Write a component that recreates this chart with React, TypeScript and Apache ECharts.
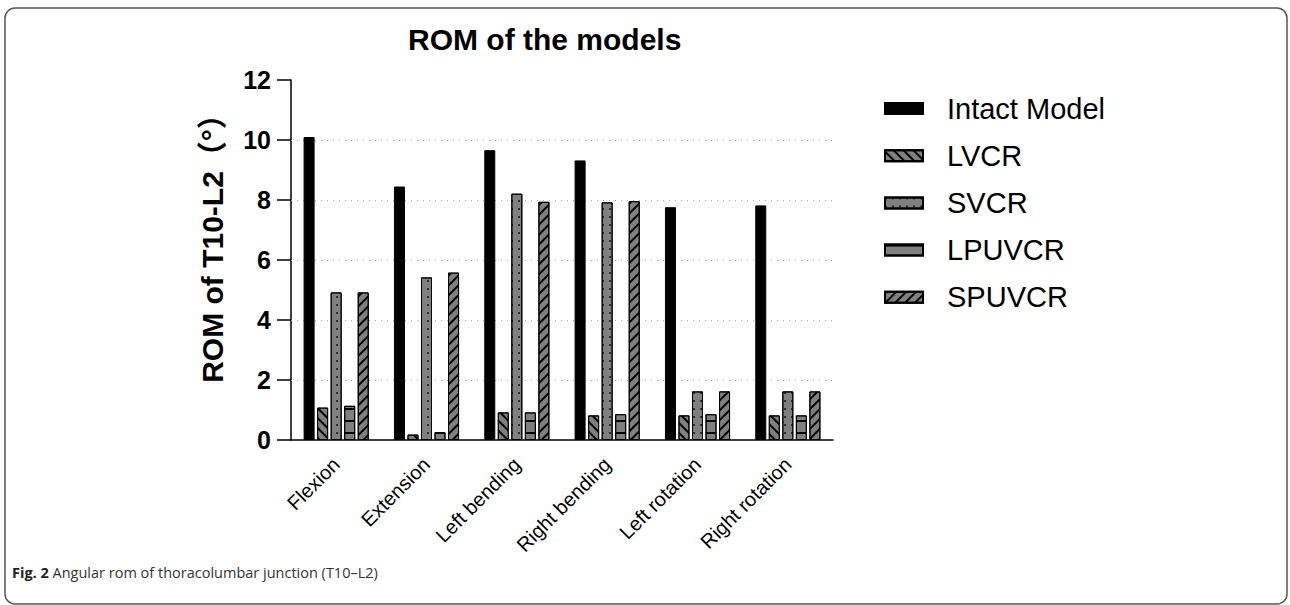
import React, { useEffect, useRef } from "react";
import * as echarts from "echarts";

const categories = ["Flexion", "Extension", "Left bending", "Right bending", "Left rotation", "Right rotation"];
const seriesNames = ["Intact Model", "LVCR", "SVCR", "LPUVCR", "SPUVCR"];
const intact = [10.1, 8.45, 9.66, 9.32, 7.76, 7.82];
const lvcr = [1.08, 0.18, 0.92, 0.82, 0.82, 0.82];
const svcr = [4.92, 5.42, 8.21, 7.92, 1.62, 1.62];
const lpuvcr = [1.14, 0.26, 0.92, 0.86, 0.86, 0.82];
const spuvcr = [4.92, 5.58, 7.94, 7.96, 1.62, 1.62];
const gridValues = [2, 4, 6, 8, 10];

const GRAY = "#808080";
const FONT = "Liberation Sans, Arial, sans-serif";

export default function App() {
  const ref = useRef<HTMLDivElement>(null);
  useEffect(() => {
    document.body.style.margin = "0";
    const chart = echarts.init(ref.current!, null, { renderer: "svg" });
    const decals: any[] = [
      null,
      { symbol: "rect", color: "#000", dashArrayX: [1, 0], dashArrayY: [1.4, 4.2], rotation: Math.PI / 4 },
      { symbol: "circle", color: "#000", symbolSize: 0.8, dashArrayX: [[2, 5]], dashArrayY: [2, 6], rotation: 0 },
      { symbol: "rect", color: "#000", dashArrayX: [1, 0], dashArrayY: [1.4, 9.4], rotation: 0 },
      { symbol: "rect", color: "#000", dashArrayX: [1, 0], dashArrayY: [1.4, 4.2], rotation: -Math.PI / 4 },
    ];
    const values = [intact, lvcr, svcr, lpuvcr, spuvcr];
    const series: any[] = values.map((v, i) => ({
      name: seriesNames[i],
      type: "bar",
      data: v,
      barWidth: 11,
      barGap: "23%",
      z: 3,
      itemStyle: {
        color: i === 0 ? "#000" : GRAY,
        borderColor: "#000",
        borderWidth: 1,
        decal: decals[i] || undefined,
      },
      markLine:
        i === 0
          ? {
              silent: true,
              symbol: ["none", "none"],
              z: 1,
              label: { show: false },
              lineStyle: { color: "#aaa", type: [1, 5], width: 1 },
              data: gridValues.map((g) => ({ yAxis: g })),
            }
          : undefined,
    }));
    chart.setOption({
      animation: false,
      title: {
        text: "ROM of the models",
        left: 408,
        top: 24,
        padding: 0,
        textStyle: { fontFamily: FONT, fontWeight: "bold", fontSize: 30, color: "#000" },
      },
      legend: {
        orient: "vertical",
        left: 884,
        top: 94,
        padding: 0,
        icon: "rect",
        itemWidth: 38,
        itemHeight: 11,
        itemGap: 18.2,
        data: seriesNames,
        textStyle: { fontFamily: FONT, fontSize: 29, color: "#000", padding: [0, 0, 0, 19] },
      },
      grid: { left: 291, top: 80, width: 542, height: 360, containLabel: false },
      xAxis: {
        type: "category",
        data: categories,
        axisLine: { lineStyle: { color: "#000", width: 1.5 } },
        axisTick: { alignWithLabel: true, length: 17, lineStyle: { color: "#000", width: 1.5 } },
        axisLabel: { rotate: 45, fontSize: 20, color: "#000", margin: 21, fontFamily: FONT },
      },
      yAxis: {
        type: "value",
        min: 0,
        max: 12,
        interval: 2,
        name: "ROM of T10-L2（°）",
        nameLocation: "middle",
        nameGap: 64,
        nameTextStyle: { fontFamily: "Liberation Sans, Arial, Noto Sans CJK SC, sans-serif", fontWeight: "bold", fontSize: 30, color: "#000", padding: [0, 0, 0, 38] },
        axisLine: { show: true, lineStyle: { color: "#000", width: 1.5 } },
        axisTick: { show: true, length: 14, lineStyle: { color: "#000", width: 1.5 } },
        axisLabel: { fontSize: 25, fontWeight: "bold", color: "#000", margin: 20, fontFamily: FONT },
        splitLine: { show: false },
      },
      graphic: [
        {
          type: "rect",
          shape: { x: 5, y: 8, width: 1282, height: 596, r: 10 },
          style: { fill: "none", stroke: "#555", lineWidth: 1.5 },
          silent: true,
        },
        {
          type: "text",
          x: 12,
          y: 565,
          style: {
            text: "{b|Fig. 2} Angular rom of thoracolumbar junction (T10–L2)",
            fontFamily: "Open Sans, sans-serif",
            fontSize: 14.5,
            fill: "#333",
            rich: { b: { fontWeight: "bold", fontFamily: "Open Sans, sans-serif", fontSize: 14.5, fill: "#222" } },
          },
        },
      ],
      series,
    });
    return () => chart.dispose();
  }, []);
  return <div ref={ref} style={{ width: 1290, height: 605 }} />;
}
